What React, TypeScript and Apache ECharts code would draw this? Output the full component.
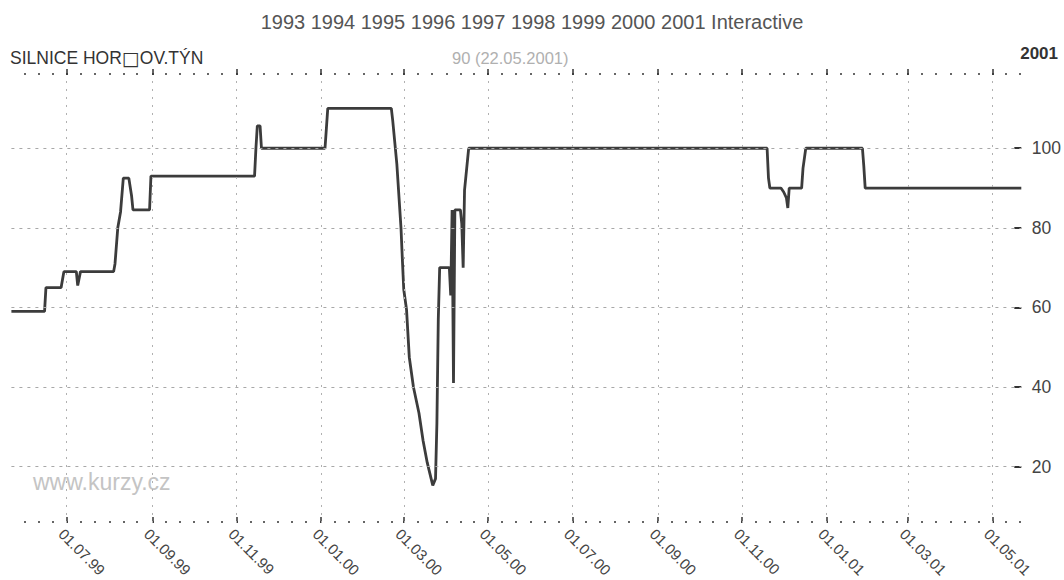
import React, { useEffect, useRef } from 'react';
import * as echarts from 'echarts';

// ---- data ----
const dates: string[] = [
  '1999-05-22', '1999-06-15', '1999-06-16', '1999-06-27', '1999-06-28', '1999-06-29',
  '1999-07-08', '1999-07-09', '1999-07-11', '1999-08-04', '1999-08-05', '1999-08-07',
  '1999-08-09', '1999-08-11', '1999-08-15', '1999-08-17', '1999-08-18', '1999-08-30',
  '1999-08-31', '1999-11-14', '1999-11-15', '1999-11-16', '1999-11-18', '1999-11-19',
  '2000-01-04', '2000-01-05', '2000-01-06', '2000-02-21', '2000-02-22', '2000-02-25',
  '2000-02-28', '2000-02-29', '2000-03-01', '2000-03-03', '2000-03-05', '2000-03-08',
  '2000-03-12', '2000-03-15', '2000-03-18', '2000-03-22', '2000-03-24', '2000-03-25',
  '2000-03-26', '2000-03-27', '2000-04-03', '2000-04-04', '2000-04-05', '2000-04-06',
  '2000-04-07', '2000-04-11', '2000-04-12', '2000-04-13', '2000-04-14', '2000-04-17',
  '2000-11-19', '2000-11-20', '2000-11-21', '2000-11-29', '2000-12-01', '2000-12-03',
  '2000-12-04', '2000-12-05', '2000-12-14', '2000-12-15', '2000-12-17', '2001-01-27',
  '2001-01-28', '2001-01-29', '2001-05-22',
];
const values: number[] = [
  59, 59, 65, 65, 67, 69,
  69, 65.5, 69, 69, 71, 80,
  84, 92.5, 92.5, 88, 84.5, 84.5,
  93, 93, 100, 105.6, 105.6, 100,
  100, 105, 110, 110, 107, 96,
  80, 72, 64.5, 59.5, 47.5, 40,
  33.5, 26.5, 21, 15.3, 17, 31,
  57, 70, 70, 63, 84.5, 41,
  84.5, 84.5, 81, 70, 89.5, 100,
  100, 92.5, 90, 90, 89, 87.5,
  85, 90, 90, 95, 100, 100,
  95.5, 90, 90,
];
const majorTickDates: string[] = [
  '1999-07-01', '1999-09-01', '1999-11-01', '2000-01-01', '2000-03-01', '2000-05-01',
  '2000-07-01', '2000-09-01', '2000-11-01', '2001-01-01', '2001-03-01', '2001-05-01',
];
const yTickValues: number[] = [20, 40, 60, 80, 100];
const xMin = '1999-05-22';
const xMax = '2001-05-22';
const yMin = 5.85;
const yMax = 118.4;

const titleText = '1993 1994 1995 1996 1997 1998 1999 2000 2001 Interactive';
const namePart1 = 'SILNICE HOR';
const nameMissing = '\u25A1';
const namePart2 = 'OV.TÝN';
const lastQuote = '90 (22.05.2001)';
const yearLabel = '2001';
const watermark = 'www.kurzy.cz';

const FONT = '"Liberation Sans", Arial, sans-serif';

function ts(s: string): number {
  const [y, m, d] = s.split('-').map(Number);
  return new Date(y, m - 1, d).getTime();
}
function pad(n: number): string {
  return n < 10 ? '0' + n : String(n);
}
function fmt(v: number): string {
  const d = new Date(v);
  return pad(d.getDate()) + '.' + pad(d.getMonth() + 1) + '.' + String(d.getFullYear()).slice(2);
}

export default function App() {
  const ref = useRef<HTMLDivElement>(null);

  useEffect(() => {
    if (!ref.current) return;
    const chart = echarts.init(ref.current, undefined, { renderer: 'svg' });

    const minT = ts(xMin);
    const maxT = ts(xMax);
    const majorTs = majorTickDates.map(ts);
    const minorTs: number[] = [];
    for (let y = 1999; y <= 2001; y++) {
      for (let m = 0; m < 12; m++) {
        for (const day of [1, 11, 21]) {
          const t = new Date(y, m, day).getTime();
          if (t >= minT && t <= maxT) minorTs.push(t);
        }
      }
    }
    const seriesData = dates.map((d, i) => [ts(d), values[i]]);

    const baseX = (position: 'top' | 'bottom', custom: number[], length: number, inside: boolean, labels: boolean) => ({
      type: 'value',
      position,
      min: minT,
      max: maxT,
      scale: true,
      axisLine: { show: false },
      axisTick: {
        show: true,
        inside,
        length,
        customValues: custom,
        lineStyle: { color: '#333', width: 1.5 },
      },
      axisLabel: labels
        ? {
            show: true,
            customValues: custom,
            formatter: (v: number) => fmt(v),
            rotate: -45,
            verticalAlign: 'top',
            color: '#444',
            fontSize: 15,
            fontFamily: FONT,
            margin: 3,
          }
        : { show: false },
      splitLine: { show: false },
    });

    chart.setOption({
      animation: false,
      backgroundColor: '#ffffff',
      grid: { left: 11.4, right: 41.6, top: 75, bottom: 57 },
      xAxis: [
        baseX('bottom', majorTs, 6, true, true),
        baseX('bottom', minorTs, 2, true, false),
        baseX('top', majorTs, 6, false, false),
        baseX('top', minorTs, 2, false, false),
      ],
      yAxis: {
        type: 'value',
        position: 'right',
        min: yMin,
        max: yMax,
        axisLine: { show: false },
        axisTick: {
          show: true,
          inside: true,
          length: 7,
          customValues: yTickValues,
          lineStyle: { color: '#333', width: 2 },
        },
        axisLabel: {
          customValues: yTickValues,
          color: '#444',
          fontSize: 17.5,
          fontFamily: FONT,
          margin: 10.5,
        },
        splitLine: { show: false },
      },
      graphic: [
        {
          type: 'text',
          left: 'center',
          top: 12,
          style: { text: titleText, fontSize: 20, fontFamily: FONT, fill: '#555' },
        },
        {
          type: 'text',
          left: 10,
          top: 48,
          style: {
            text: namePart1 + '{b|' + nameMissing + '}' + namePart2,
            fontSize: 17.5,
            fontFamily: FONT,
            fill: '#333',
            rich: {
              b: { fontSize: 19, fontFamily: '"DejaVu Sans", sans-serif', fill: '#333' },
            },
          },
        },
        {
          type: 'text',
          left: 452,
          top: 49,
          style: { text: lastQuote, fontSize: 16.5, fontFamily: FONT, fill: '#b0b0b0' },
        },
        {
          type: 'text',
          right: 6,
          top: 45,
          style: { text: yearLabel, fontSize: 17, fontWeight: 'bold', fontFamily: FONT, fill: '#333' },
        },
        {
          type: 'text',
          left: 33,
          top: 470,
          style: { text: watermark, fontSize: 23, fontFamily: FONT, fill: '#c4c4c4' },
        },
      ],
      series: [
        {
          type: 'line',
          name: 'grid',
          data: [],
          z: 1,
          silent: true,
          markLine: {
            silent: true,
            symbol: ['none', 'none'],
            label: { show: false },
            animation: false,
            data: [
              ...yTickValues.map((v) => ({
                yAxis: v,
                lineStyle: { type: [3, 5], color: '#a8a8a8', width: 1 },
              })),
              ...majorTs.map((t) => ({
                xAxis: t,
                lineStyle: { type: [2, 6], color: '#b0b0b0', width: 1 },
              })),
            ],
          },
        },
        {
          type: 'line',
          name: 'SILNICE',
          data: seriesData,
          xAxisIndex: 0,
          z: 3,
          symbol: 'none',
          lineStyle: { color: '#3c3c3c', width: 2.8 },
        },
      ],
    });

    return () => chart.dispose();
  }, []);

  return <div ref={ref} style={{ position: 'absolute', left: 0, top: 0, width: 1064, height: 580 }} />;
}
